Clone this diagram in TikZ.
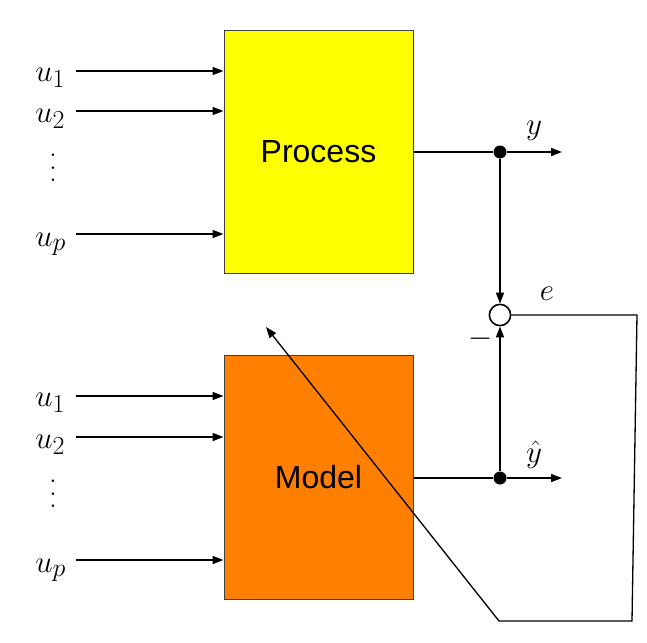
\documentclass[tikz,border=0pt]{standalone}
\usepackage{fontspec}
\newfontfamily\boxfont{Liberation Sans}
\usetikzlibrary{arrows.meta}
\definecolor{procyellow}{RGB}{255,255,0}
\definecolor{modelorange}{RGB}{255,127,0}
\newcommand\dotstack{\vbox{\baselineskip=10pt\lineskiplimit=0pt\hbox{.}\hbox{.}\hbox{.}}}
\tikzset{
  blk/.style={draw=black!75, line width=0.8pt, minimum width=151.2pt, minimum height=194.4pt, inner sep=0pt, font=\boxfont\fontsize{25.6}{30}\selectfont},
  arr/.style={-{Triangle[length=8.8pt,width=6.4pt]}, line width=1.28pt},
  ln/.style={line width=1.28pt},
  lbl/.style={inner sep=0pt, font=\fontsize{24.88}{30}\selectfont},
  inlbl/.style={lbl, anchor=base west},
  jdot/.style={circle, fill=black, inner sep=0pt, minimum size=10.4pt},
  sumj/.style={circle, draw, line width=1.28pt, fill=white, minimum size=17pt, inner sep=0pt}
}
\begin{document}
\begin{tikzpicture}[x=0.8pt,y=-0.8pt]
\useasboundingbox (0,0) rectangle (647,643);
% blocks
\node[blk, fill=procyellow] (P) at (318.5,151.5) {Process};
\node[blk, fill=modelorange, minimum height=195.2pt] (M) at (318.5,477) {Model};
% process inputs
\node[inlbl] (pu1) at (35,81) {$u_1$};
\node[inlbl] (pu2) at (35,122) {$u_2$};
\node[lbl] (pud) at (53,168) {\dotstack};
\node[inlbl] (pup) at (35,246) {$u_p$};
\coordinate (ps1) at (76,71);
\coordinate (ps2) at (76,111);
\coordinate (psp) at (76,234);
\draw[arr] (ps1) -- (ps1 -| P.west);
\draw[arr] (ps2) -- (ps2 -| P.west);
\draw[arr] (psp) -- (psp -| P.west);
% model inputs
\node[inlbl] (mu1) at (35,406) {$u_1$};
\node[inlbl] (mu2) at (35,448) {$u_2$};
\node[lbl] (mud) at (53,494) {\dotstack};
\node[inlbl] (mup) at (35,572) {$u_p$};
\coordinate (ms1) at (76,396);
\coordinate (ms2) at (76,437);
\coordinate (msp) at (76,560);
\draw[arr] (ms1) -- (ms1 -| M.west);
\draw[arr] (ms2) -- (ms2 -| M.west);
\draw[arr] (msp) -- (msp -| M.west);
% outputs
\node[jdot] (d1) at (500,152) {};
\node[jdot] (d2) at (500,478) {};
\coordinate (yend) at (562,152);
\coordinate (yhend) at (562,478);
\draw[ln] (d1 -| P.east) -- (d1);
\draw[arr] (d1) -- (yend);
\draw[ln] (d2 -| M.east) -- (d2);
\draw[arr] (d2) -- (yhend);
\node[lbl] (ylab) at (534,131) {$y$};
\node[lbl] (yhlab) at (534,455) {$\hat{y}$};
% summing junction
\node[sumj] (S) at (500,315) {};
\draw[arr] (d1) -- (S.north);
\draw[arr] (d2) -- (S.south);
\node[lbl] (minus) at (481,339) {$-$};
\node[lbl] (elab) at (547,294) {$e$};
% feedback / adaptation path
\coordinate (f1) at (637,315);
\coordinate (f2) at (632,621);
\coordinate (f3) at (499,621);
\coordinate (ftip) at (266,327);
\draw[line width=1.05pt, -{Triangle[length=8.8pt,width=6.4pt]}, line join=miter] (S.east) -- (f1) -- (f2) -- (f3) -- (ftip);
\end{tikzpicture}
\end{document}
